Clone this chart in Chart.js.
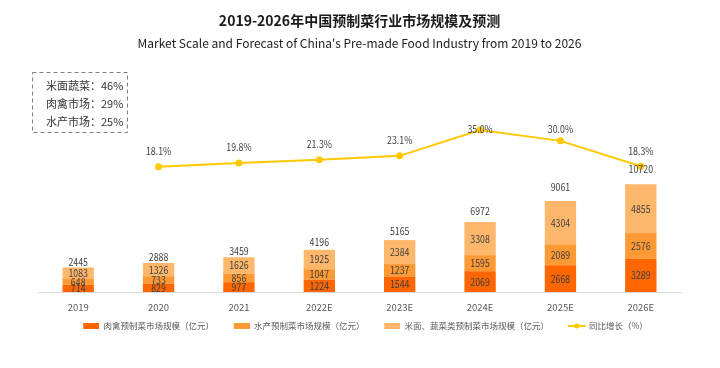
<!DOCTYPE html>
<html><head><meta charset="utf-8">
<script src="https://cdn.jsdelivr.net/npm/chart.js@4"></script>
<style>html,body{margin:0;padding:0;background:#fff}#wrap{width:720px;height:368px}</style>
</head><body><div id="wrap"><canvas id="c" width="720" height="368"></canvas></div>
<script>
const categories = ['2019','2020','2021','2022E','2023E','2024E','2025E','2026E'];
const meatPoultry = [714,829,977,1224,1544,2069,2668,3289];
const aquatic = [648,733,856,1047,1237,1595,2089,2576];
const riceVeg = [1083,1326,1626,1925,2384,3308,4304,4855];
const totals = [2445,2888,3459,4196,5165,6972,9061,10720];
const growth = [null,18.1,19.8,21.3,23.1,35.0,30.0,18.3];
const seriesNames = ['肉禽预制菜市场规模（亿元）','水产预制菜市场规模（亿元）','米面、蔬菜类预制菜市场规模（亿元）','同比增长（%）'];
const shareLabels = ['米面蔬菜：46%','肉禽市场：29%','水产市场：25%'];
const titleText = '2019-2026年中国预制菜行业市场规模及预测';
const subtitleText = "Market Scale and Forecast of China's Pre-made Food Industry from 2019 to 2026";

const colors = ['#FF6600','#FF9933','#FFB76B','#FFC800'];
const CJK = "'Noto Sans CJK SC', 'Noto Sans', sans-serif";

// legend icons: transparent left margin (12px) gives the spacing between legend items
function swatch(color){const c=document.createElement('canvas');c.width=28;c.height=6;const x=c.getContext('2d');x.fillStyle=color;x.fillRect(12,0,16,6);return c;}
function lineSwatch(color){const c=document.createElement('canvas');c.width=30;c.height=8;const x=c.getContext('2d');x.strokeStyle=color;x.lineWidth=2;x.beginPath();x.moveTo(12,4);x.lineTo(30,4);x.stroke();x.fillStyle=color;x.beginPath();x.arc(21,4,2.5,0,Math.PI*2);x.fill();return c;}
const icons = [swatch(colors[0]),swatch(colors[1]),swatch(colors[2]),lineSwatch(colors[3])];

function narrowText(ctx, t, x, y){ ctx.save(); ctx.translate(x, y); ctx.scale(0.84, 1); ctx.fillText(t, 0, 0); ctx.restore(); }

const labelPlugin = {
  id:'labels',
  afterDatasetsDraw(chart){
    const ctx = chart.ctx;
    ctx.save();
    ctx.font = '10.5px ' + CJK;
    ctx.fillStyle = '#404040';
    ctx.textAlign = 'center';
    ctx.textBaseline = 'middle';
    [meatPoultry, aquatic, riceVeg].forEach((arr, di) => {
      const meta = chart.getDatasetMeta(di);
      meta.data.forEach((el, j) => {
        narrowText(ctx, String(arr[j]), el.x, (el.y + el.base) / 2);
      });
    });
    const tmeta = chart.getDatasetMeta(4);
    tmeta.data.forEach((el, j) => { narrowText(ctx, String(totals[j]), el.x, el.y); });
    const gmeta = chart.getDatasetMeta(3);
    gmeta.data.forEach((el, j) => {
      if (growth[j] == null) return;
      const y = Math.max(el.y - 15.7, chart.chartArea.top + 69.3);
      narrowText(ctx, growth[j].toFixed(1) + '%', el.x, y);
    });
    ctx.restore();
  },
  afterDraw(chart){
    const ctx = chart.ctx;
    ctx.save();
    ctx.setLineDash([4,3]);
    ctx.strokeStyle = '#7f7f7f';
    ctx.lineWidth = 1;
    ctx.strokeRect(32.5, 72.5, 95, 60);
    ctx.setLineDash([]);
    ctx.font = '11px ' + CJK;
    ctx.fillStyle = '#333333';
    ctx.textAlign = 'left';
    ctx.textBaseline = 'middle';
    const ys = [86, 104, 122];
    shareLabels.forEach((t, i) => ctx.fillText(t, 46, ys[i]));
    ctx.restore();
  }
};

new Chart(document.getElementById('c'), {
  data: {
    labels: categories,
    datasets: [
      {type:'bar', label:seriesNames[0], data:meatPoultry, backgroundColor:colors[0], stack:'s', order:1, yAxisID:'y'},
      {type:'bar', label:seriesNames[1], data:aquatic, backgroundColor:colors[1], stack:'s', order:1, yAxisID:'y'},
      {type:'bar', label:seriesNames[2], data:riceVeg, backgroundColor:colors[2], stack:'s', order:1, yAxisID:'y'},
      {type:'line', label:seriesNames[3], data:growth, borderColor:colors[3], backgroundColor:colors[3], borderWidth:2, pointRadius:3.5, pointHoverRadius:3.5, pointBorderWidth:0, order:0, yAxisID:'y2', spanGaps:false},
      {type:'line', label:'total', data:totals, showLine:false, pointRadius:0, order:2, yAxisID:'y3'}
    ]
  },
  options: {
    responsive:false,
    animation:false,
    devicePixelRatio:1,
    layout:{padding:{left:38, right:39, top:0, bottom:27.75}},
    datasets:{bar:{categoryPercentage:1, barPercentage:0.39}},
    scales:{
      x:{stacked:true, offset:true, grid:{display:false, drawTicks:false}, border:{display:true, color:'#d9d9d9', width:1},
         ticks:{color:'#595959', font:{family:CJK, size:9.5}, padding:10},
         afterFit(scale){ scale.height = 22; }},
      y:{display:false, stacked:true, min:0, max:23084},
      y2:{display:false, min:-39.65, max:67.26},
      y3:{display:false, min:-191, max:20330}
    },
    plugins:{
      title:{display:true, text:titleText, color:'#1a1a1a', font:{family:CJK, size:14, weight:'bold'}, padding:{top:12, bottom:0}},
      subtitle:{display:true, text:subtitleText, color:'#222222', font:{family:CJK, size:12}, padding:{top:7.6, bottom:9.2}},
      legend:{position:'bottom', labels:{usePointStyle:true, pointStyleWidth:28, boxHeight:6, color:'#595959', font:{family:CJK, size:8.5}, padding:7.75,
        filter:(it)=>it.datasetIndex<4,
        sort:(a,b)=>a.datasetIndex-b.datasetIndex,
        generateLabels(chart){ const items = Chart.defaults.plugins.legend.labels.generateLabels(chart); items.forEach(it=>{ if(it.datasetIndex<4) it.pointStyle = icons[it.datasetIndex]; }); return items; }
      }},
      tooltip:{enabled:false}
    }
  },
  plugins:[labelPlugin]
});
</script></body></html>
